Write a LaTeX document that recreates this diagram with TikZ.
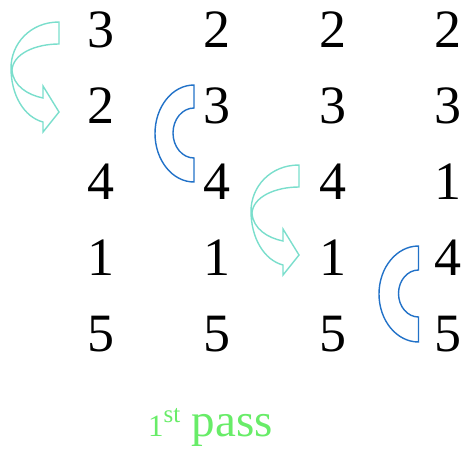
\documentclass[tikz,border=0pt]{standalone}
\usepackage{fontspec}
\setmainfont{Liberation Serif}
\definecolor{swapcyan}{RGB}{122,222,204}
\definecolor{keepblue}{RGB}{34,114,200}
\definecolor{passgreen}{RGB}{104,236,104}
\begin{document}
\begin{tikzpicture}[x=1pt,y=-1pt,
  num/.style={anchor=base, font=\fontsize{54}{54}\selectfont, inner sep=0pt},
  swaparrow/.style={draw=swapcyan, line width=1.4pt, line join=miter},
  keeparc/.style={draw=keepblue, line width=1.4pt, line join=miter},
  passlabel/.style={anchor=base, text=passgreen, inner sep=0pt, font=\fontsize{47}{47}\selectfont}]
\useasboundingbox (0,0) rectangle (465,450);
% numbers
\foreach \col/\x/\vals in {1/100.5/{3,2,4,1,5}, 2/216.5/{2,3,4,1,5}, 3/332.5/{2,3,4,1,5}, 4/448/{2,3,1,4,5}}{
  \foreach \v [count=\r] in \vals {
    \node[num] (n\col\r) at (\x, 47.5+76*\r-76) {\v};
  }
}
% cyan curved arrows (swap)
\foreach \dx/\dy in {0/0, 240/143}{
\begin{scope}[shift={(\dx,\dy)}]
  \draw[swaparrow] (59,44) -- (59,22)
     .. controls (30,22) and (11,44) .. (11,68)
     .. controls (11,95) and (24,117) .. (43,122)
     -- (43,132) -- (59,112) -- (43,86) -- (43,98)
     .. controls (28,95) and (13,86) .. (12,70)
     .. controls (13,54) and (35,44) .. (59,44) -- cycle;
\end{scope}}
% blue block arcs (no swap)
\draw[keeparc] (194,85) -- (194,108)
   arc[start angle=270, end angle=90, x radius=21, y radius=25]
   -- (194,182)
   arc[start angle=90, end angle=270, x radius=39, y radius=48.5] -- cycle;
\draw[keeparc] (418.5,246) -- (418.5,270)
   arc[start angle=270, end angle=90, x radius=20, y radius=23.5]
   -- (418.5,342)
   arc[start angle=90, end angle=270, x radius=39.5, y radius=48] -- cycle;
% label
\node[passlabel] (pass) at (210.5,436) {{\fontsize{31}{31}\selectfont 1}\raisebox{14pt}{\fontsize{25}{25}\selectfont st} pass};
\end{tikzpicture}
\end{document}
